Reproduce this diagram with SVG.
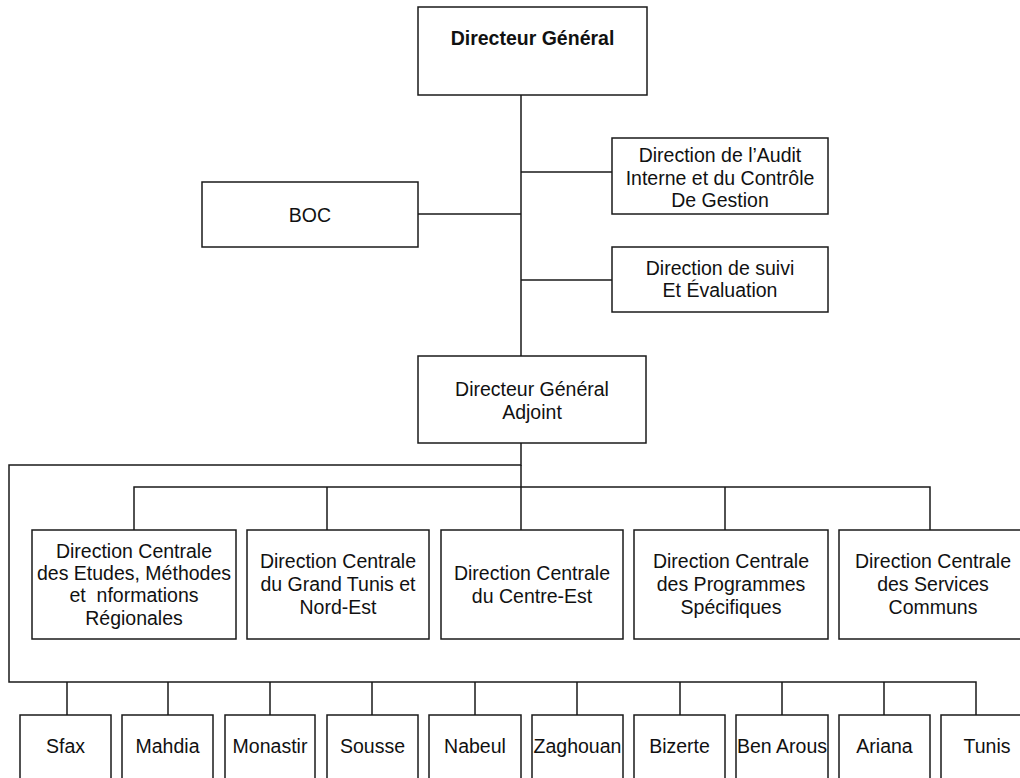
<svg xmlns="http://www.w3.org/2000/svg" width="1020" height="778" viewBox="0 0 1020 778">
<style>
.box{fill:#fff;stroke:#1a1a1a;stroke-width:1.5}
.ln{fill:none;stroke:#1a1a1a;stroke-width:1.5}
text{font-family:"Liberation Sans",Arial,sans-serif;font-size:19.5px;fill:#111;text-anchor:middle}
.b{font-weight:bold}
</style>
<rect width="1020" height="778" fill="#fff"/>
<g id="connectors">
<path class="ln" d="M521 95V356M521 172H612M418 214H521M521 280H612"/>
<path class="ln" d="M521 443V465H9V682H976V715"/>
<path class="ln" d="M521 465V530M134 530V487H930V530M327 487V530M725 487V530"/>
<path class="ln" d="M67 682V715M168 682V715M270 682V715M372 682V715M475 682V715M577 682V715M680 682V715M782 682V715M884 682V715"/>
</g>
<g id="dg"><rect class="box" x="418" y="7" width="229" height="88"/><text class="b" x="532.5" y="45">Directeur Général</text></g>
<g id="audit"><rect class="box" x="612" y="138" width="216" height="76"/><text x="720" y="162">Direction de l’Audit</text><text x="720" y="184.5">Interne et du Contrôle</text><text x="720" y="207">De Gestion</text></g>
<g id="boc"><rect class="box" x="202" y="182" width="216" height="65"/><text x="310" y="222">BOC</text></g>
<g id="suivi"><rect class="box" x="612" y="247" width="216" height="65"/><text x="720" y="275">Direction de suivi</text><text x="720" y="297">Et Évaluation</text></g>
<g id="dga"><rect class="box" x="418" y="356" width="228" height="87"/><text x="532" y="396">Directeur Général</text><text x="532" y="419">Adjoint</text></g>
<g id="dc1"><rect class="box" x="32" y="530" width="204" height="109"/><text x="134" y="558">Direction Centrale</text><text x="134" y="580">des Etudes, Méthodes</text><text x="134" y="602" xml:space="preserve" style="white-space:pre">et  nformations</text><text x="134" y="625">Régionales</text></g>
<g id="dc2"><rect class="box" x="247" y="530" width="182" height="109"/><text x="338" y="568">Direction Centrale</text><text x="338" y="591">du Grand Tunis et</text><text x="338" y="613.5">Nord-Est</text></g>
<g id="dc3"><rect class="box" x="441" y="530" width="182" height="109"/><text x="532" y="580">Direction Centrale</text><text x="532" y="603">du Centre-Est</text></g>
<g id="dc4"><rect class="box" x="634" y="530" width="194" height="109"/><text x="731" y="568">Direction Centrale</text><text x="731" y="591">des Programmes</text><text x="731" y="613.5">Spécifiques</text></g>
<g id="dc5"><rect class="box" x="839" y="530" width="188" height="109"/><text x="933" y="568">Direction Centrale</text><text x="933" y="591">des Services</text><text x="933" y="613.5">Communs</text></g>
<g id="sfax"><rect class="box" x="20" y="715" width="91" height="80"/><text x="65.5" y="753">Sfax</text></g>
<g id="mahdia"><rect class="box" x="122" y="715" width="91" height="80"/><text x="167.5" y="753">Mahdia</text></g>
<g id="monastir"><rect class="box" x="225" y="715" width="90" height="80"/><text x="270" y="753">Monastir</text></g>
<g id="sousse"><rect class="box" x="327" y="715" width="91" height="80"/><text x="372.5" y="753">Sousse</text></g>
<g id="nabeul"><rect class="box" x="429" y="715" width="92" height="80"/><text x="475" y="753">Nabeul</text></g>
<g id="zaghouan"><rect class="box" x="532" y="715" width="91" height="80"/><text x="577.5" y="753">Zaghouan</text></g>
<g id="bizerte"><rect class="box" x="634" y="715" width="91" height="80"/><text x="679.5" y="753">Bizerte</text></g>
<g id="benarous"><rect class="box" x="736" y="715" width="92" height="80"/><text x="782" y="753">Ben Arous</text></g>
<g id="ariana"><rect class="box" x="839" y="715" width="91" height="80"/><text x="884.5" y="753">Ariana</text></g>
<g id="tunis"><rect class="box" x="941" y="715" width="92" height="80"/><text x="987" y="753">Tunis</text></g>
</svg>
